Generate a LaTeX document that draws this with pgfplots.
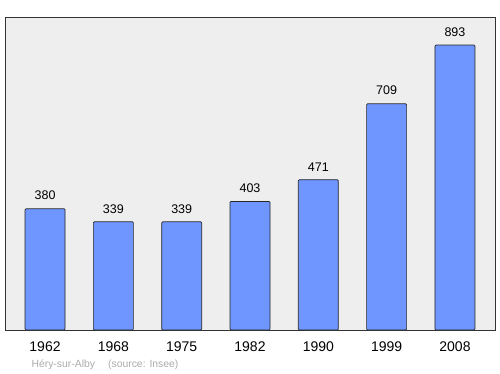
\documentclass[border=0pt]{standalone}
\usepackage{pgfplots}
\pgfplotsset{compat=1.18}
\usepackage{fontspec}
\setmainfont{Liberation Sans}
\definecolor{barblue}{RGB}{111,150,255}
\definecolor{bggray}{RGB}{238,238,238}
\begin{document}
\begin{tikzpicture}[x=1pt,y=1pt]
\path[use as bounding box] (0,0) rectangle (500,374);
\begin{axis}[
  at={(5pt,44pt)}, anchor=south west,
  scale only axis, width=490pt, height=313pt,
  xmin=-0.586, xmax=6.586, ymin=0, ymax=981,
  axis background/.style={fill=bggray},
  axis line style={draw=black!80, line width=0.9pt},
  ytick=\empty,
  xtick={0,1,2,3,4,5,6},
  xticklabels={1962,1968,1975,1982,1990,1999,2008},
  xtick style={draw=none},
  xticklabel style={font=\fontsize{14}{16}\selectfont, yshift=-4pt},
  ybar, bar width=40pt, bar shift=0pt,
  nodes near coords,
  every node near coord/.append style={font=\fontsize{12.5}{14}\selectfont, yshift=5pt},
  /pgf/number format/assume math mode=true,
]
\addplot[fill=barblue, draw=black!85, line width=0.7pt, rounded corners=1pt] coordinates {
(0,380) (1,339) (2,339) (3,403) (4,471) (5,709) (6,893)};
\end{axis}
\node[anchor=west, text=black!33, font=\fontsize{10.4}{12}\selectfont] at (28,9) {Héry-sur-Alby\hspace{13pt}(source: Insee)};
\end{tikzpicture}
\end{document}
